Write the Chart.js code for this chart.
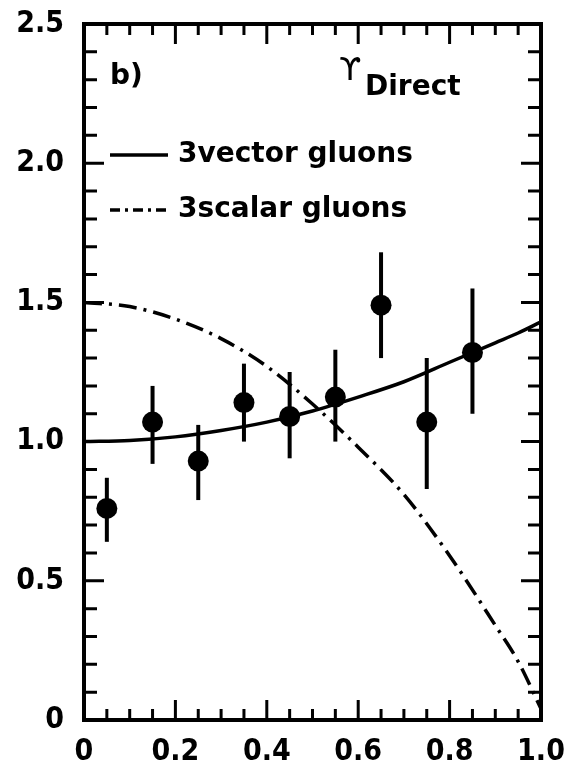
<!DOCTYPE html>
<html>
<head>
<meta charset="utf-8">
<script src="https://cdn.jsdelivr.net/npm/chart.js@4/dist/chart.umd.min.js"></script>
<style>
  html, body { margin: 0; padding: 0; background: #fff; }
  #wrap { position: absolute; left: 0; top: 0; width: 575px; height: 770px; }
</style>
</head>
<body>
<div id="wrap"><canvas id="c" width="575" height="770"></canvas></div>
<script>
// Measured ratio per x bin, with lower / upper ends of the error bars
const binX    = [0.05, 0.15, 0.25, 0.35, 0.45, 0.55, 0.65, 0.75, 0.85];
const ratio   = [0.76, 1.07, 0.93, 1.14, 1.09, 1.16, 1.49, 1.07, 1.32];
const errLow  = [0.64, 0.92, 0.79, 1.00, 0.94, 1.00, 1.30, 0.83, 1.10];
const errHigh = [0.87, 1.20, 1.06, 1.28, 1.25, 1.33, 1.68, 1.30, 1.55];

// Model curves
const curveX   = [0, 0.1, 0.2, 0.3, 0.4, 0.5, 0.6, 0.7, 0.8, 0.9, 0.95, 1.0];
const vectorY  = [1.00, 1.004, 1.017, 1.04, 1.07, 1.11, 1.16, 1.215, 1.285, 1.355, 1.39, 1.43];
const scalarY  = [1.50, 1.485, 1.44, 1.37, 1.27, 1.135, 0.98, 0.81, 0.59, 0.34, 0.21, 0.04];

// Axis ticks
const xTicks = [0, 0.2, 0.4, 0.6, 0.8, 1.0];
const yTicks = [0, 0.5, 1.0, 1.5, 2.0, 2.5];

// Legend / annotation texts
const panelLabel = 'b)';
const stateSymbol = 'ϒ';
const stateSub = 'Direct';
const seriesNames = ['3vector gluons', '3scalar gluons'];

const INK = '#000';
const TICK_FONT = '"DejaVu Sans Condensed", "DejaVu Sans", sans-serif';
const TEXT_FONT = '"DejaVu Sans", sans-serif';
const DASHDOT = [18, 7, 3, 7];

const pts = (xs, ys) => xs.map((x, i) => ({ x: x, y: ys[i] }));

const fmt = v => (Math.abs(v) < 1e-9 ? '0' : Number(v).toFixed(1));

// Frame, inward ticks on all four sides, error bars, legend and labels
const decor = {
  id: 'decor',
  beforeDatasetsDraw(chart) {
    const ctx = chart.ctx;
    const xs = chart.scales.x, ys = chart.scales.y;
    ctx.save();
    ctx.strokeStyle = INK;
    ctx.lineWidth = 4;
    ctx.lineCap = 'butt';
    binX.forEach((x, i) => {
      const px = xs.getPixelForValue(x);
      ctx.beginPath();
      ctx.moveTo(px, ys.getPixelForValue(errLow[i]));
      ctx.lineTo(px, ys.getPixelForValue(errHigh[i]));
      ctx.stroke();
    });
    ctx.restore();
  },
  afterDraw(chart) {
    const ctx = chart.ctx;
    const a = chart.chartArea;
    const xs = chart.scales.x, ys = chart.scales.y;
    ctx.save();
    ctx.strokeStyle = INK;
    ctx.lineWidth = 4;
    ctx.strokeRect(a.left, a.top, a.right - a.left, a.bottom - a.top);

    ctx.lineWidth = 3;
    // x ticks every 0.05, longer every 0.2
    for (let k = 1; k < 20; k++) {
      const v = k * 0.05;
      const px = xs.getPixelForValue(v);
      const major = k % 4 === 0;
      const len = major ? 20 : 11;
      ctx.beginPath();
      ctx.moveTo(px, a.bottom); ctx.lineTo(px, a.bottom - len);
      ctx.moveTo(px, a.top); ctx.lineTo(px, a.top + len);
      ctx.stroke();
    }
    // y ticks every 0.1, longer every 0.5
    for (let k = 1; k < 25; k++) {
      const v = k * 0.1;
      const py = ys.getPixelForValue(v);
      const major = k % 5 === 0;
      const len = major ? 20 : 13;
      ctx.beginPath();
      ctx.moveTo(a.left, py); ctx.lineTo(a.left + len, py);
      ctx.moveTo(a.right, py); ctx.lineTo(a.right - len, py);
      ctx.stroke();
    }

    ctx.fillStyle = INK;
    ctx.textBaseline = 'middle';
    ctx.textAlign = 'left';

    // panel label
    ctx.font = 'bold 28px ' + TEXT_FONT;
    ctx.fillText(panelLabel, 110, 77);

    // state symbol with subscript
    ctx.font = '32px ' + TEXT_FONT;
    ctx.fillText(stateSymbol, 339, 72);
    ctx.font = 'bold 28px ' + TEXT_FONT;
    ctx.fillText(stateSub, 365, 88);

    // legend
    ctx.font = 'bold 28px ' + TEXT_FONT;
    const rows = [155, 210];
    rows.forEach((y, i) => {
      ctx.beginPath();
      ctx.lineWidth = 3.5;
      ctx.setLineDash(i === 0 ? [] : [10, 5, 3, 5]);
      ctx.moveTo(110, y); ctx.lineTo(168, y);
      ctx.stroke();
      ctx.setLineDash([]);
      ctx.fillText(seriesNames[i], 178, y);
    });
    ctx.restore();
  }
};

new Chart(document.getElementById('c'), {
  type: 'scatter',
  data: {
    datasets: [
      {
        label: 'data',
        data: pts(binX, ratio),
        pointRadius: 10.5,
        pointHoverRadius: 10.5,
        backgroundColor: INK,
        borderWidth: 0,
        order: 0
      },
      {
        type: 'line',
        label: seriesNames[0],
        data: pts(curveX, vectorY),
        borderColor: INK,
        borderWidth: 3.5,
        pointRadius: 0,
        fill: false,
        cubicInterpolationMode: 'monotone',
        order: 1
      },
      {
        type: 'line',
        label: seriesNames[1],
        data: pts(curveX, scalarY),
        borderColor: INK,
        borderWidth: 3.5,
        borderDash: DASHDOT,
        pointRadius: 0,
        fill: false,
        cubicInterpolationMode: 'monotone',
        order: 2
      }
    ]
  },
  options: {
    responsive: false,
    devicePixelRatio: 1,
    animation: false,
    events: [],
    layout: { padding: { left: 0, top: 24, right: 34, bottom: 0 } },
    plugins: { legend: { display: false }, tooltip: { enabled: false } },
    scales: {
      x: {
        type: 'linear',
        min: 0, max: 1,
        afterFit: s => { s.height = 50; s.paddingLeft = 0; s.paddingRight = 0; },
        afterBuildTicks: s => { s.ticks = xTicks.map(v => ({ value: v })); },
        grid: { display: false, drawTicks: false },
        border: { display: false },
        ticks: {
          color: INK,
          font: { family: TICK_FONT, size: 30, weight: 'bold' },
          padding: 14,
          maxRotation: 0,
          callback: v => fmt(v)
        }
      },
      y: {
        type: 'linear',
        min: 0, max: 2.5,
        afterFit: s => { s.width = 84; s.paddingTop = 0; s.paddingBottom = 0; },
        afterBuildTicks: s => { s.ticks = yTicks.map(v => ({ value: v })); },
        grid: { display: false, drawTicks: false },
        border: { display: false },
        ticks: {
          color: INK,
          font: { family: TICK_FONT, size: 30, weight: 'bold' },
          padding: 20,
          callback: v => fmt(v)
        }
      }
    }
  },
  plugins: [decor]
});
</script>
</body>
</html>
